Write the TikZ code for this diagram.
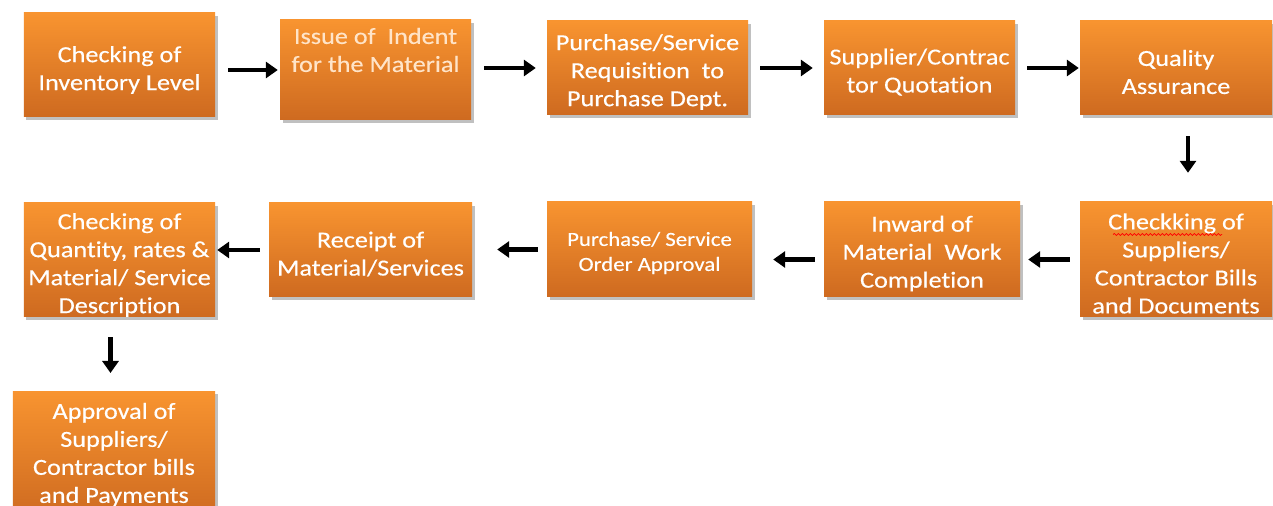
\documentclass[tikz,border=0pt]{standalone}
\usepackage{fontspec}
\setmainfont{Carlito}[FakeStretch=1.14, FakeBold=0.4, Ligatures=NoCommon]
\usetikzlibrary{arrows.meta,shadows,decorations.pathmorphing}
\definecolor{boxtop}{RGB}{248,148,48}
\definecolor{boxbot}{RGB}{206,106,32}
\definecolor{paletext}{RGB}{255,228,200}
% tall invisible strut on a first line: sets the whole text a little lower
\newcommand\mypad[1]{\rule{0pt}{#1}}
\tikzset{
  stepbox/.style={rectangle, inner sep=0pt, align=center, text=white,
    top color=boxtop, bottom color=boxbot, draw=none,
    font=\fontsize{23bp}{28bp}\selectfont,
    drop shadow={shadow xshift=2.5bp, shadow yshift=-3bp, opacity=0.35, fill=black!70}},
  flow/.style={line width=4.2bp, -{Triangle[length=12bp,width=16bp]}}
}
\begin{document}
\begin{tikzpicture}[x=1bp,y=-1bp]
\useasboundingbox[fill=white] (0,0) rectangle (1273,506);

% first row, left to right
\node[stepbox, minimum width=191bp, minimum height=104bp] (b1) at (119.5,65)
  {\mypad{26bp}Checking of\\Inventory Level};
\node[stepbox, minimum width=191bp, minimum height=100bp] (b2) at (375.5,70) {};
\node[text=paletext, align=center, font=\fontsize{23bp}{28bp}\selectfont, inner sep=0pt]
  (b2t) at (375.5,50) {Issue of \ Indent\\for the Material};
\node[stepbox, minimum width=201bp, minimum height=94bp] (b3) at (647.5,68)
  {\mypad{24bp}Purchase/Service\\Requisition \ to\\Purchase Dept.};
\node[stepbox, minimum width=191bp, minimum height=94bp] (b4) at (919.5,68)
  {\mypad{24bp}Supplier/Contrac\\tor Quotation};
\node[stepbox, minimum width=192bp, minimum height=94bp] (b5) at (1176,68)
  {\mypad{24bp}Quality\\Assurance};

% second row, right to left
\node[stepbox, minimum width=192bp, minimum height=115bp] (b6) at (1176,259.5)
  {\mypad{24bp}Checkking of\\Suppliers/\\Contractor Bills\\and Documents};
\node[stepbox, minimum width=196bp, minimum height=95bp] (b7) at (922,249.5)
  {\mypad{24bp}Inward of\\Material \ Work\\Completion};
\node[stepbox, minimum width=205bp, minimum height=95bp,
  font=\fontsize{20bp}{25bp}\selectfont] (b8) at (649.5,249.5)
  {\mypad{21bp}Purchase/ Service\\Order Approval};
\node[stepbox, minimum width=203bp, minimum height=94bp] (b9) at (370.5,250)
  {\mypad{24bp}Receipt of\\Material/Services};
\node[stepbox, minimum width=191bp, minimum height=114bp] (b10) at (119.5,260)
  {\mypad{26bp}Checking of\\Quantity, rates \&\\Material/ Service\\Description};

% last step, below; it runs past the lower edge
\node[stepbox, minimum width=202bp, minimum height=127bp, anchor=north] (b11) at (114,391)
  {Approval of\\Suppliers/\\Contractor bills\\and Payments};

% spell-check mark under the misspelt word
\draw[red, line width=0.7bp, decorate,
  decoration={snake, segment length=4bp, amplitude=1bp}]
  ([xshift=-63bp,yshift=25bp]b6.center) -- ([xshift=46bp,yshift=25bp]b6.center);

% connectors
\draw[flow, shorten <=13bp, shorten >=2bp] (b1.east |- b2.west) -- (b2.west);
\draw[flow, shorten <=13bp, shorten >=11bp] (b2.east |- b3.west) -- (b3.west);
\draw[flow, shorten <=12bp, shorten >=11bp] (b3.east) -- (b4.west);
\draw[flow, shorten <=12bp, shorten >=1bp] (b4.east) -- (b5.west);
\draw[flow, shorten <=21bp, shorten >=29bp] ([xshift=12bp]b5.south) -- ([xshift=12bp]b6.north);
\draw[flow, shorten <=10bp, shorten >=8bp] (b6.west) -- (b6.west -| b7.east);
\draw[flow, shorten <=9bp, shorten >=21bp] ([yshift=-10bp]b7.west) -- ([yshift=-10bp]b7.west -| b8.east);
\draw[flow, shorten <=9bp, shorten >=25bp] (b8.west) -- (b8.west -| b9.east);
\draw[flow, shorten <=9bp, shorten >=2bp] (b9.west) -- (b9.west -| b10.east);
\draw[flow, shorten <=20bp, shorten >=18bp] ([xshift=-9bp]b10.south) -- ([xshift=-9bp]b10.south |- b11.north);
\end{tikzpicture}
\end{document}
